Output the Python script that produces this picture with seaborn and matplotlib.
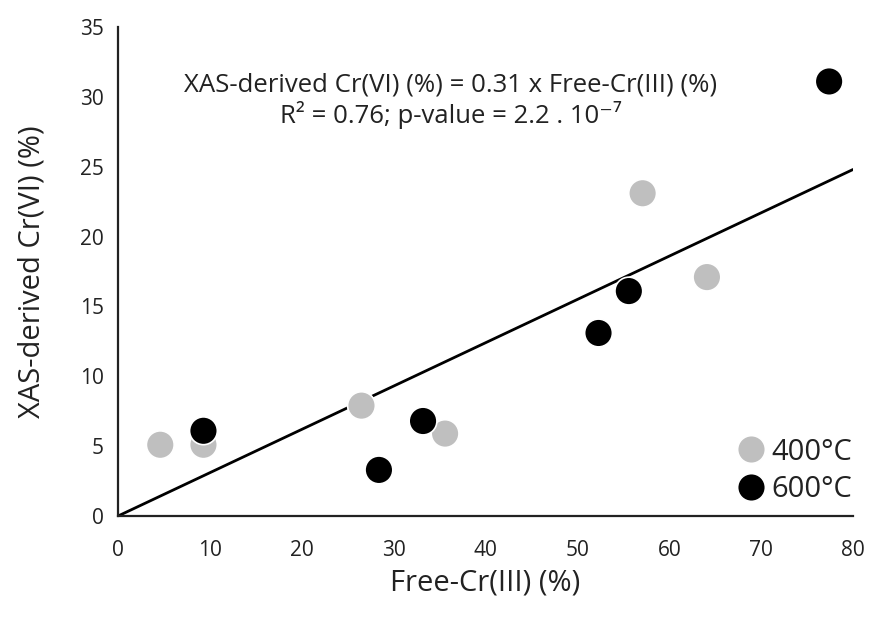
import matplotlib
matplotlib.use("Agg")
import matplotlib.pyplot as plt
import seaborn as sns
import pandas as pd
import numpy as np

# Data
x_400 = [4.6, 9.3, 26.5, 35.6, 57.1, 64.1]
y_400 = [5.1, 5.1, 7.9, 5.9, 23.1, 17.1]
x_600 = [9.3, 28.4, 33.2, 52.3, 55.6, 77.4]
y_600 = [6.1, 3.3, 6.8, 13.1, 16.1, 31.1]
groups = ["400°C", "600°C"]
slope = 0.31
x_ticks = [0, 10, 20, 30, 40, 50, 60, 70, 80]
y_ticks = [0, 5, 10, 15, 20, 25, 30, 35]

df = pd.DataFrame({
    "x": x_400 + x_600,
    "y": y_400 + y_600,
    "group": [groups[0]] * len(x_400) + [groups[1]] * len(x_600),
})

sns.set_theme(style="white")
plt.rcParams["font.family"] = ["Open Sans", "DejaVu Sans"]

fig = plt.figure(figsize=(8.69, 6.2), dpi=100)
ax = fig.add_axes([0.1358, 0.1677, 0.8458, 0.7888])

line_x = np.array([0, 80])
ax.plot(line_x, slope * line_x, color="black", lw=2, zorder=1)

sns.scatterplot(data=df, x="x", y="y", hue="group", hue_order=groups,
                palette={"400°C": "#BFBFBF", "600°C": "#000000"},
                s=400, edgecolor="white", linewidth=1.2, ax=ax, zorder=3)

ax.set_xlim(0, 80)
ax.set_ylim(0, 35)
ax.set_xticks(x_ticks)
ax.set_yticks(y_ticks)
ax.tick_params(axis="x", labelsize=15, length=0, pad=17, colors="#222222")
ax.tick_params(axis="y", labelsize=15, length=0, pad=10, colors="#222222")
for s in ["top", "right"]:
    ax.spines[s].set_visible(False)
for s in ["left", "bottom"]:
    ax.spines[s].set_color("#222222")
    ax.spines[s].set_linewidth(1.6)

ax.set_xlabel("Free-Cr(III) (%)", fontsize=21, labelpad=6, color="#222222")
ax.set_ylabel("XAS-derived Cr(VI) (%)", fontsize=21, labelpad=24, color="#222222")

ax.text(0.453, 0.881, "XAS-derived Cr(VI) (%) = 0.31 x Free-Cr(III) (%)",
        transform=ax.transAxes, ha="center", va="center", fontsize=18.5, color="#222222")
ax.text(0.453, 0.820, "R² = 0.76; p-value = 2.2 . 10⁻⁷",
        transform=ax.transAxes, ha="center", va="center", fontsize=18.5, color="#222222")

leg = ax.legend(loc="lower right", frameon=False, fontsize=21, handletextpad=0.15,
                handlelength=1.1, borderaxespad=0.0, labelspacing=0.3,
                markerscale=1.0, bbox_to_anchor=(1.015, 0.0))
for t in leg.get_texts():
    t.set_color("#222222")

fig.savefig("out.png", dpi=100)
